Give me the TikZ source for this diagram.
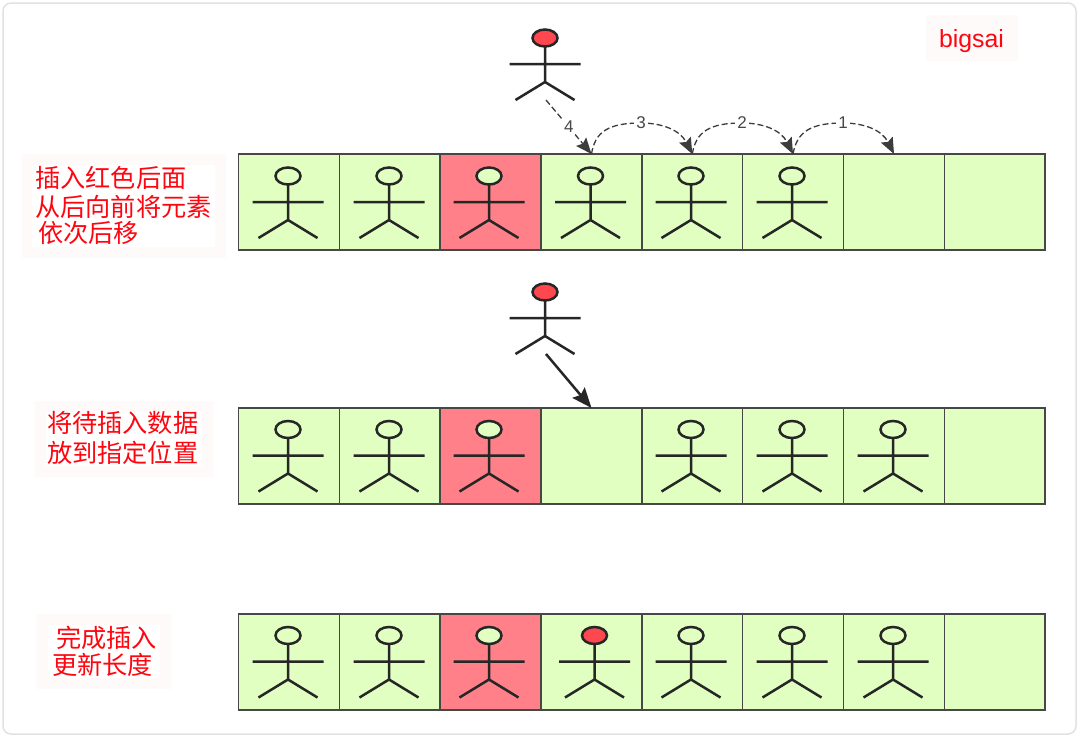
\documentclass[tikz,border=0pt]{standalone}
\usepackage{fontspec}
\setmainfont{Liberation Sans}
\newfontfamily\cjk{Noto Sans CJK SC}
\usetikzlibrary{arrows.meta}
\definecolor{cellgreen}{HTML}{E1FFC1}
\definecolor{cellred}{HTML}{FF8088}
\definecolor{headred}{HTML}{FF474F}
\definecolor{ink}{HTML}{262626}
\definecolor{labelbg}{HTML}{FFFAFA}
\definecolor{frameedge}{HTML}{E2E2E2}
\definecolor{labelred}{HTML}{FF0510}
\tikzset{
  x=1pt,y=-1pt,
  cellbox/.style={draw=ink!85,line width=1.5pt,fill=cellgreen,minimum width=101pt,minimum height=96pt,inner sep=0pt,outer sep=0pt,anchor=north west},
  redcell/.style={cellbox,fill=cellred},
  labelouter/.style={fill=labelbg,draw=none},
  labelinner/.style={fill=white,draw=none},
  cntext/.style={font=\cjk\fontsize{25.2}{28}\selectfont,text=labelred,inner sep=0pt,anchor=base west},
  dasharrow/.style={draw=ink!90,line width=1.3pt,dash pattern=on 6pt off 3pt,-{Stealth[length=16pt,width=13pt,inset=2.5pt]}},
  steplabel/.style={fill=white,inner sep=2pt,text=ink!85,font=\fontsize{17}{19}\selectfont},
  pics/actor/.style={code={
    \draw[ink,line width=2.5pt,fill=#1] (0,-18) ellipse[x radius=12.5,y radius=8.5];
    \draw[ink,line width=2.5pt] (0,-9.5) -- (0,26) (-35.5,8) -- (35.5,8) (-29.5,44) -- (0,26) -- (29.5,44);
  }},
}
\begin{document}
\begin{tikzpicture}
\useasboundingbox (0,0) rectangle (1080,737);
\fill[white] (0,0) rectangle (1080,737);
\draw[frameedge,line width=1.5pt,fill=white,rounded corners=8pt] (3,3) rectangle (1076,734);

% labels
\fill[labelouter] (22,154) rectangle (226,258);
\fill[labelinner] (32,165) rectangle (215,247);
\fill[labelouter] (35,401) rectangle (213,477);
\fill[labelinner] (46,412) rectangle (202,466);
\fill[labelouter] (37,614) rectangle (171,689);
\fill[labelinner] (48,625) rectangle (160,678);
\fill[labelouter] (926,15) rectangle (1018,61);

\node[cntext] (t1a) at (35,187) {插入红色后面};
\node[cntext] (t1b) at (35,216) {从后向前将元素};
\node[cntext] (t1c) at (38,242) {依次后移};
\node[cntext] (t2a) at (47,432) {将待插入数据};
\node[cntext] (t2b) at (47,462) {放到指定位置};
\node[cntext] (t3a) at (56,647) {完成插入};
\node[cntext] (t3b) at (52,674) {更新长度};
\node[text=labelred,inner sep=0pt,font=\fontsize{24.8}{28}\selectfont,anchor=base] (brand) at (971.5,47) {bigsai};

% rows
\foreach \r/\y in {1/154,2/408,3/614}{
  \foreach \c/\x/\w in {1/238.5/101,2/339.5/100.5,4/541/101,5/642/100.5,6/742.5/101,7/843.5/101,8/944.5/100.5}{
    \node[cellbox,minimum width=\w pt] (c\r\c) at (\x,\y) {};
  }
  \node[redcell,minimum width=101pt] (c\r3) at (440,\y) {};
}

% actors in cells
\foreach \x in {288,389,489,590.5,691,792}{\pic at (\x,194) {actor=cellgreen};}
\foreach \x in {288,389,489,691,792,893}{\pic at (\x,447.5) {actor=cellgreen};}
\foreach \x in {288,389,489,691,792,893}{\pic at (\x,653.5) {actor=cellgreen};}
\pic at (594.5,653.5) {actor=headred};

% incoming actors
\pic at (545,56) {actor=headred};
\pic at (545,310) {actor=headred};

\coordinate (from1) at (546,100);
\coordinate (from2) at (546,354);

% connectors
\draw[dasharrow] (from1) -- node[steplabel,pos=.5] {4} (c14.north);
\draw[dasharrow] (c14.north) .. controls (595,132) and (608,123) .. (641,123) node[steplabel] {3} .. controls (662,123) and (680,130) .. (c15.north);
\draw[dasharrow] (c15.north) .. controls (696,132) and (709,123) .. (742,123) node[steplabel] {2} .. controls (763,123) and (781,130) .. (c16.north);
\draw[dasharrow] (c16.north) .. controls (797,132) and (810,123) .. (843,123) node[steplabel] {1} .. controls (864,123) and (882,130) .. (c17.north);
\draw[ink,line width=2.5pt,-{Stealth[length=20pt,width=16pt,inset=3pt]}] (from2) -- (c24.north);
\end{tikzpicture}
\end{document}
